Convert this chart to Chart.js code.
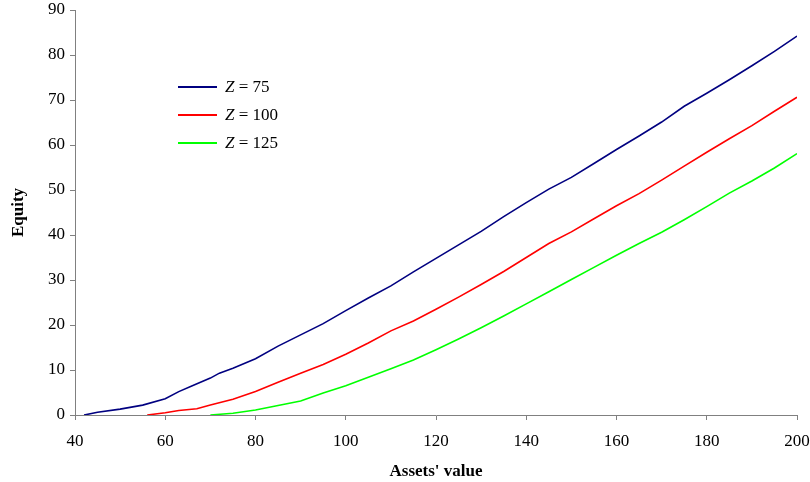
<!DOCTYPE html>
<html>
<head>
<meta charset="utf-8">
<script src="https://cdn.jsdelivr.net/npm/chart.js@4/dist/chart.umd.min.js"></script>
<style>
  body { margin: 0; background: #fff; }
  #wrap { position: relative; width: 810px; height: 482px; }
  #legend { position: absolute; left: 178px; top: 73px; font-family: 'Liberation Serif', serif; font-size: 17px; color: #000; }
  .row { height: 28px; display: flex; align-items: center; }
  .swatch { width: 39px; height: 2px; margin-right: 8px; }
</style>
</head>
<body>
<div id="wrap">
  <canvas id="myChart" width="810" height="482"></canvas>
  <div id="legend"></div>
</div>
<script>
'use strict';

// assets' value (x) and equity (y) for each barrier level Z
var assetsZ75 = [42, 45, 50, 55, 60, 63, 66, 70, 72, 75, 80, 85, 90, 95, 100, 105, 110, 115, 120, 125, 130, 135, 140, 145, 150, 155, 160, 165, 170, 175, 180, 185, 190, 195, 200];
var equityZ75 = [0, 0.6, 1.3, 2.2, 3.6, 5.2, 6.5, 8.2, 9.3, 10.4, 12.5, 15.3, 17.8, 20.3, 23.2, 26, 28.7, 31.8, 34.8, 37.8, 40.8, 44.1, 47.2, 50.2, 52.8, 55.9, 59.0, 62, 65.1, 68.6, 71.5, 74.5, 77.6, 80.8, 84.2];

var assetsZ100 = [56, 60, 63, 67, 70, 75, 80, 85, 90, 95, 100, 105, 110, 115, 120, 125, 130, 135, 140, 145, 150, 155, 160, 165, 170, 175, 180, 185, 190, 195, 200];
var equityZ100 = [0, 0.5, 1.0, 1.4, 2.2, 3.5, 5.2, 7.3, 9.3, 11.2, 13.5, 16.0, 18.7, 20.9, 23.5, 26.2, 29, 31.9, 35, 38.1, 40.7, 43.6, 46.5, 49.2, 52.2, 55.3, 58.4, 61.4, 64.3, 67.5, 70.6];

var assetsZ125 = [70, 75, 80, 85, 90, 95, 100, 105, 110, 115, 120, 125, 130, 135, 140, 145, 150, 155, 160, 165, 170, 175, 180, 185, 190, 195, 200];
var equityZ125 = [0, 0.4, 1.1, 2.1, 3.1, 4.9, 6.5, 8.4, 10.3, 12.2, 14.5, 16.9, 19.4, 22, 24.7, 27.4, 30.1, 32.8, 35.5, 38.1, 40.6, 43.4, 46.3, 49.3, 52, 54.9, 58.1];

var zLevels = ['75', '100', '125'];
var lineColors = ['#000080', '#ff0000', '#00ff00'];

function toPoints(xs, ys) {
    var pts = [];
    for (var i = 0; i < xs.length; i++) {
        pts.push({ x: xs[i], y: ys[i] });
    }
    return pts;
}

var allSeries = [toPoints(assetsZ75, equityZ75), toPoints(assetsZ100, equityZ100), toPoints(assetsZ125, equityZ125)];

var datasets = [];
for (var i = 0; i < allSeries.length; i++) {
    datasets.push({
        label: 'Z = ' + zLevels[i],
        data: allSeries[i],
        borderColor: lineColors[i],
        backgroundColor: lineColors[i],
        borderWidth: 1.6,
        pointRadius: 0,
        tension: 0
    });
}

// legend sits inside the plot, Z in italics
var legendBox = document.getElementById('legend');
for (var j = 0; j < zLevels.length; j++) {
    var row = document.createElement('div');
    row.className = 'row';
    row.innerHTML = '<span class="swatch" style="background:' + lineColors[j] + '"></span><i>Z</i>&nbsp;= ' + zLevels[j];
    legendBox.appendChild(row);
}

var tickFont = { family: 'Liberation Serif', size: 17 };
var titleFont = { family: 'Liberation Serif', size: 17, weight: 'bold' };

var ctx = document.getElementById('myChart').getContext('2d');
var chart = new Chart(ctx, {
    type: 'line',
    data: { datasets: datasets },
    options: {
        responsive: false,
        animation: false,
        layout: { padding: { top: 10, right: 13, left: 0, bottom: 0 } },
        plugins: { legend: { display: false }, tooltip: { enabled: false } },
        scales: {
            x: {
                type: 'linear',
                min: 40,
                max: 200,
                ticks: { stepSize: 20, color: '#000', font: tickFont, padding: 11, maxRotation: 0 },
                grid: { drawOnChartArea: false, drawTicks: true, tickLength: 5, color: '#808080' },
                border: { color: '#808080', width: 1 },
                title: { display: true, text: "Assets' value", color: '#000', font: titleFont, padding: { top: -1, bottom: 0 } },
                afterFit: function (scale) {
                    scale.height = 67;
                    scale.paddingLeft = 0;
                    scale.paddingRight = 0;
                }
            },
            y: {
                min: 0,
                max: 90,
                ticks: { stepSize: 10, color: '#000', font: tickFont, padding: 5 },
                grid: { drawOnChartArea: false, drawTicks: true, tickLength: 5, color: '#808080' },
                border: { color: '#808080', width: 1 },
                title: { display: true, text: 'Equity', color: '#000', font: titleFont, padding: { top: 8, bottom: 4 } },
                afterFit: function (scale) {
                    scale.width = 75;
                    scale.paddingTop = 0;
                    scale.paddingBottom = 0;
                }
            }
        }
    }
});
</script>
</body>
</html>
